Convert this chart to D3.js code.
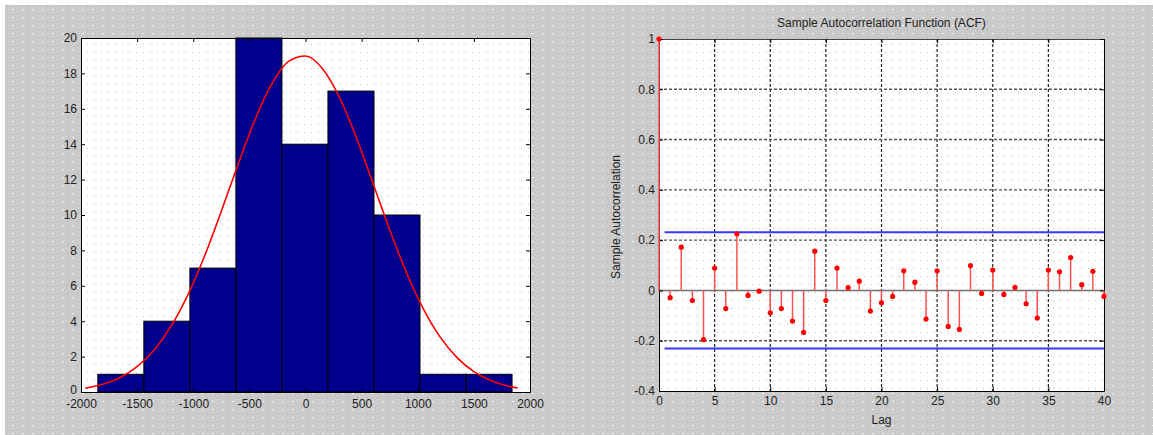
<!doctype html>
<html lang="en">
<head>
    <meta http-equiv="content-type" content="text/html; charset=utf-8" />
    <title>Histogram fit and sample ACF</title>
    <style>
        html, body { margin: 0; padding: 0; background: #fff; }
        svg { display: block; }
        text { font-family: "Liberation Sans", Arial, sans-serif; }
    </style>
</head>
<body>
    <svg id="figure"></svg>

    <script src="https://cdn.jsdelivr.net/npm/d3@7/dist/d3.min.js"></script>

    <script>
        // histogram (histfit) data
        const binEdges = [-1850, -1440, -1030, -620, -210, 200, 610, 1020, 1430, 1840];
        const binCounts = [1, 4, 7, 20, 14, 17, 10, 1, 1];

        // fitted normal curve
        const curveX = [-1960, -1800, -1650, -1500, -1350, -1200, -1050, -900, -750, -600, -450, -300, -150, 0,
                        150, 300, 450, 600, 750, 900, 1050, 1200, 1350, 1500, 1650, 1800, 1890];
        const curveY = [0.22, 0.45, 0.82, 1.43, 2.36, 3.69, 5.46, 7.67, 10.21, 12.87, 15.38, 17.41, 18.68, 18.98,
                        18.28, 16.68, 14.42, 11.81, 9.17, 6.74, 4.70, 3.10, 1.94, 1.15, 0.65, 0.34, 0.23];

        const histXTicks = [-2000, -1500, -1000, -500, 0, 500, 1000, 1500, 2000];
        const histYTicks = [0, 2, 4, 6, 8, 10, 12, 14, 16, 18, 20];

        // sample autocorrelation, lags 0..40
        const acfValues = [1, -0.029, 0.172, -0.040, -0.196, 0.089, -0.072, 0.225, -0.020, -0.003, -0.089,
                           -0.072, -0.122, -0.167, 0.156, -0.040, 0.089, 0.011, 0.037, -0.082, -0.049,
                           -0.024, 0.078, 0.033, -0.114, 0.078, -0.143, -0.155, 0.099, -0.012, 0.081,
                           -0.016, 0.012, -0.053, -0.110, 0.081, 0.074, 0.131, 0.023, 0.076, -0.024];
        const confBound = 0.231;
        const acfXTicks = [0, 5, 10, 15, 20, 25, 30, 35, 40];
        const acfYTicks = [-0.4, -0.2, 0, 0.2, 0.4, 0.6, 0.8, 1];

        const width = 1153, height = 435;
        const svg = d3.select("#figure")
            .attr("width", width)
            .attr("height", height);

        // plain number labels with a hyphen minus, as MATLAB prints them
        const plain = d => String(+(+d).toFixed(1));

        // dithered looking backgrounds
        const defs = svg.append("defs");
        const grayPat = defs.append("pattern")
            .attr("id", "gray-dots")
            .attr("patternUnits", "userSpaceOnUse")
            .attr("width", 10).attr("height", 8);
        grayPat.append("rect").attr("width", 10).attr("height", 8).attr("fill", "#cacaca");
        grayPat.append("rect").attr("x", 2).attr("y", 1).attr("width", 2).attr("height", 1).attr("fill", "#f4f4f4");
        grayPat.append("rect").attr("x", 7).attr("y", 5).attr("width", 1).attr("height", 1).attr("fill", "#a4a4a4");

        const whitePat = defs.append("pattern")
            .attr("id", "white-dots")
            .attr("patternUnits", "userSpaceOnUse")
            .attr("width", 7).attr("height", 8);
        whitePat.append("rect").attr("width", 7).attr("height", 8).attr("fill", "#ffffff");
        whitePat.append("rect").attr("x", 3).attr("y", 4).attr("width", 1).attr("height", 1).attr("fill", "#c4c4c4");

        svg.append("rect").attr("width", width).attr("height", height).attr("fill", "#ffffff");
        svg.append("rect")
            .attr("x", 5).attr("y", 5)
            .attr("width", width - 5).attr("height", height - 5)
            .attr("fill", "url(#gray-dots)");

        drawHistogram();
        drawAcf();

        function drawHistogram() {
            const left = 81, right = 530, top = 38, bottom = 392;
            const x = d3.scaleLinear().domain([-2000, 2000]).range([left, right]);
            const y = d3.scaleLinear().domain([0, 20]).range([bottom, top]);

            const g = svg.append("g");
            g.append("rect")
                .attr("x", left).attr("y", top)
                .attr("width", right - left).attr("height", bottom - top)
                .attr("fill", "url(#white-dots)");

            g.append("g").selectAll("rect")
                .data(binCounts)
                .join("rect")
                .attr("x", (d, i) => x(binEdges[i]))
                .attr("y", d => y(d))
                .attr("width", (d, i) => x(binEdges[i + 1]) - x(binEdges[i]))
                .attr("height", d => y(0) - y(d))
                .attr("fill", "#00008c")
                .attr("stroke", "#000")
                .attr("stroke-width", 1);

            const line = d3.line()
                .x((d, i) => x(curveX[i]))
                .y(d => y(d))
                .curve(d3.curveMonotoneX);
            g.append("path")
                .datum(curveY)
                .attr("d", line)
                .attr("fill", "none")
                .attr("stroke", "#ff0000")
                .attr("stroke-width", 1.6);

            // box with inward ticks on all four sides
            g.append("g")
                .attr("transform", `translate(0,${bottom})`)
                .call(d3.axisBottom(x).tickValues(histXTicks).tickSizeInner(-4).tickSizeOuter(0).tickPadding(7)
                    .tickFormat(plain))
                .call(styleAxis);
            g.append("g")
                .attr("transform", `translate(0,${top})`)
                .call(d3.axisTop(x).tickValues(histXTicks).tickSizeInner(-4).tickSizeOuter(0).tickFormat(""))
                .call(styleAxis);
            g.append("g")
                .attr("transform", `translate(${left},0)`)
                .call(d3.axisLeft(y).tickValues(histYTicks).tickSizeInner(-4).tickSizeOuter(0).tickPadding(4)
                    .tickFormat(plain))
                .call(styleAxis)
                .call(a => a.selectAll(".tick text").filter(d => d === 0).attr("dy", "0.1em"));
            g.append("g")
                .attr("transform", `translate(${right},0)`)
                .call(d3.axisRight(y).tickValues(histYTicks).tickSizeInner(-4).tickSizeOuter(0).tickFormat(""))
                .call(styleAxis);
        }

        function drawAcf() {
            const left = 659, right = 1104, top = 39, bottom = 391;
            const x = d3.scaleLinear().domain([0, 40]).range([left, right]);
            const y = d3.scaleLinear().domain([-0.4, 1]).range([bottom, top]);

            const g = svg.append("g");
            g.append("rect")
                .attr("x", left).attr("y", top)
                .attr("width", right - left).attr("height", bottom - top)
                .attr("fill", "url(#white-dots)");

            // dotted grid
            g.append("g").selectAll("line")
                .data(acfXTicks.slice(1, -1))
                .join("line")
                .attr("x1", d => x(d)).attr("x2", d => x(d))
                .attr("y1", top).attr("y2", bottom)
                .attr("stroke", "#222")
                .attr("stroke-width", 1.2)
                .attr("stroke-dasharray", "3,2");
            g.append("g").selectAll("line")
                .data(acfYTicks.filter(d => d !== 0 && d !== -0.4 && d !== 1))
                .join("line")
                .attr("x1", left).attr("x2", right)
                .attr("y1", d => y(d)).attr("y2", d => y(d))
                .attr("stroke", "#555")
                .attr("stroke-width", 1.4)
                .attr("stroke-dasharray", "3,2");

            // confidence bounds
            g.append("g").selectAll("line")
                .data([confBound, -confBound])
                .join("line")
                .attr("x1", x(0.5)).attr("x2", right)
                .attr("y1", d => y(d)).attr("y2", d => y(d))
                .attr("stroke", "#3838ff")
                .attr("stroke-width", 2);

            // stem baseline
            g.append("line")
                .attr("x1", left).attr("x2", right)
                .attr("y1", y(0)).attr("y2", y(0))
                .attr("stroke", "#707070")
                .attr("stroke-width", 1.5);

            g.append("g")
                .attr("transform", `translate(0,${bottom})`)
                .call(d3.axisBottom(x).tickValues(acfXTicks).tickSizeInner(-4).tickSizeOuter(0).tickPadding(5)
                    .tickFormat(plain))
                .call(styleAxis);
            g.append("g")
                .attr("transform", `translate(0,${top})`)
                .call(d3.axisTop(x).tickValues(acfXTicks).tickSizeInner(-4).tickSizeOuter(0).tickFormat(""))
                .call(styleAxis)
                .call(a => a.select(".domain").attr("stroke", "#444"));
            g.append("g")
                .attr("transform", `translate(${left},0)`)
                .call(d3.axisLeft(y).tickValues(acfYTicks).tickSizeInner(-4).tickSizeOuter(0).tickPadding(4)
                    .tickFormat(plain))
                .call(styleAxis);
            g.append("g")
                .attr("transform", `translate(${right},0)`)
                .call(d3.axisRight(y).tickValues(acfYTicks).tickSizeInner(-4).tickSizeOuter(0).tickFormat(""))
                .call(styleAxis);

            // stems and markers
            g.append("g").selectAll("line")
                .data(acfValues)
                .join("line")
                .attr("x1", (d, i) => x(i)).attr("x2", (d, i) => x(i))
                .attr("y1", y(0)).attr("y2", d => y(d))
                .attr("stroke", "#ff5050")
                .attr("stroke-width", 1.5);
            g.append("g").selectAll("circle")
                .data(acfValues)
                .join("circle")
                .attr("cx", (d, i) => x(i))
                .attr("cy", d => y(d))
                .attr("r", 2.6)
                .attr("fill", "#ff0000");

            g.append("text")
                .attr("x", (left + right) / 2).attr("y", 27)
                .attr("text-anchor", "middle")
                .attr("font-size", 12)
                .attr("fill", "#222")
                .text("Sample Autocorrelation Function (ACF)");
            g.append("text")
                .attr("x", (left + right) / 2).attr("y", 424)
                .attr("text-anchor", "middle")
                .attr("font-size", 12)
                .attr("fill", "#222")
                .text("Lag");
            g.append("text")
                .attr("transform", `translate(620,${(top + bottom) / 2 + 2}) rotate(-90)`)
                .attr("text-anchor", "middle")
                .attr("font-size", 12)
                .attr("fill", "#222")
                .text("Sample Autocorrelation");
        }

        function styleAxis(a) {
            a.select(".domain").attr("stroke", "#000");
            a.selectAll(".tick line").attr("stroke", "#000");
            a.selectAll(".tick text")
                .attr("fill", "#222")
                .attr("font-size", 12)
                .attr("font-family", "'Liberation Sans', Arial, sans-serif");
        }
    </script>
</body>
</html>
